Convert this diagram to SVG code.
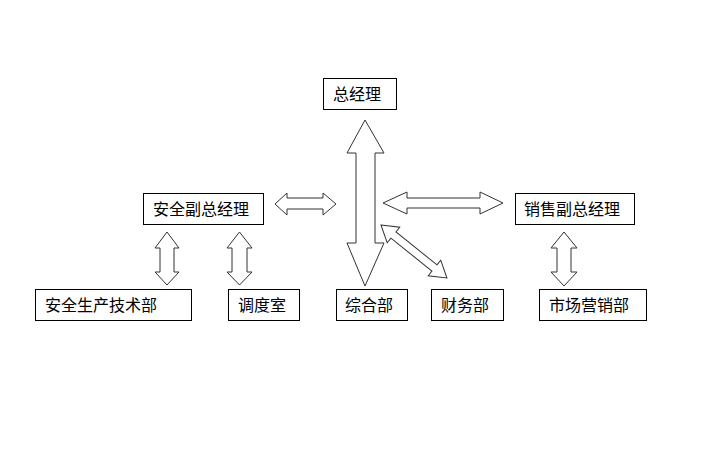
<svg xmlns="http://www.w3.org/2000/svg" width="720" height="450" viewBox="0 0 720 450">
<style>
.box{fill:#fff;stroke:#000;stroke-width:1}
.lbl{font-family:"Noto Sans CJK SC","Noto Sans",sans-serif;font-size:16px;fill:#000}
.arr{fill:#fff;stroke:#333;stroke-width:1;stroke-linejoin:miter}
</style>
<rect width="720" height="450" fill="#fff"/>
<g id="connectors">
<polygon class="arr" points="365,120 384,153 375,153 375,243 384,243 365,286 347,243 356,243 356,153 347,153"/>
<polygon class="arr" points="275,204 287,193 287,198 323,198 323,193 336,204 323,215 323,209 287,209 287,215"/>
<polygon class="arr" points="383,203 407,192 407,198 480,198 480,192 503,203 480,214 480,208 407,208 407,214"/>
<polygon class="arr" transform="translate(381,225) rotate(38.8)" points="0,0 16,-10 16,-4 68.6,-4 68.6,-10 84.6,0 68.6,10 68.6,4 16,4 16,10"/>
<polygon class="arr" points="167,232 179,248 174,248 174,272 179,272 167,285 155,272 160,272 160,248 155,248"/>
<polygon class="arr" points="239.5,232 252,248 247,248 247,272 252,272 239.5,285 227,272 232,272 232,248 227,248"/>
<polygon class="arr" points="564,232 577,248 571,248 571,272 577,272 564,286 551,272 557,272 557,248 551,248"/>
</g>
<g id="n_gm"><rect class="box" x="323.5" y="78.5" width="73" height="31"/><text class="lbl" x="333" y="100">总经理</text></g>
<g id="n_safety_vp"><rect class="box" x="143.5" y="193.5" width="120" height="31"/><text class="lbl" x="153" y="215">安全副总经理</text></g>
<g id="n_sales_vp"><rect class="box" x="515.5" y="193.5" width="119" height="31"/><text class="lbl" x="524" y="215">销售副总经理</text></g>
<g id="n_safety_tech"><rect class="box" x="35.5" y="289.5" width="156" height="31"/><text class="lbl" x="45" y="311">安全生产技术部</text></g>
<g id="n_dispatch"><rect class="box" x="228.5" y="289.5" width="71" height="31"/><text class="lbl" x="238" y="311">调度室</text></g>
<g id="n_general"><rect class="box" x="336.5" y="289.5" width="71" height="31"/><text class="lbl" x="345" y="311">综合部</text></g>
<g id="n_finance"><rect class="box" x="431.5" y="289.5" width="72" height="31"/><text class="lbl" x="441" y="311">财务部</text></g>
<g id="n_marketing"><rect class="box" x="539.5" y="289.5" width="107" height="31"/><text class="lbl" x="549" y="311">市场营销部</text></g>
</svg>
